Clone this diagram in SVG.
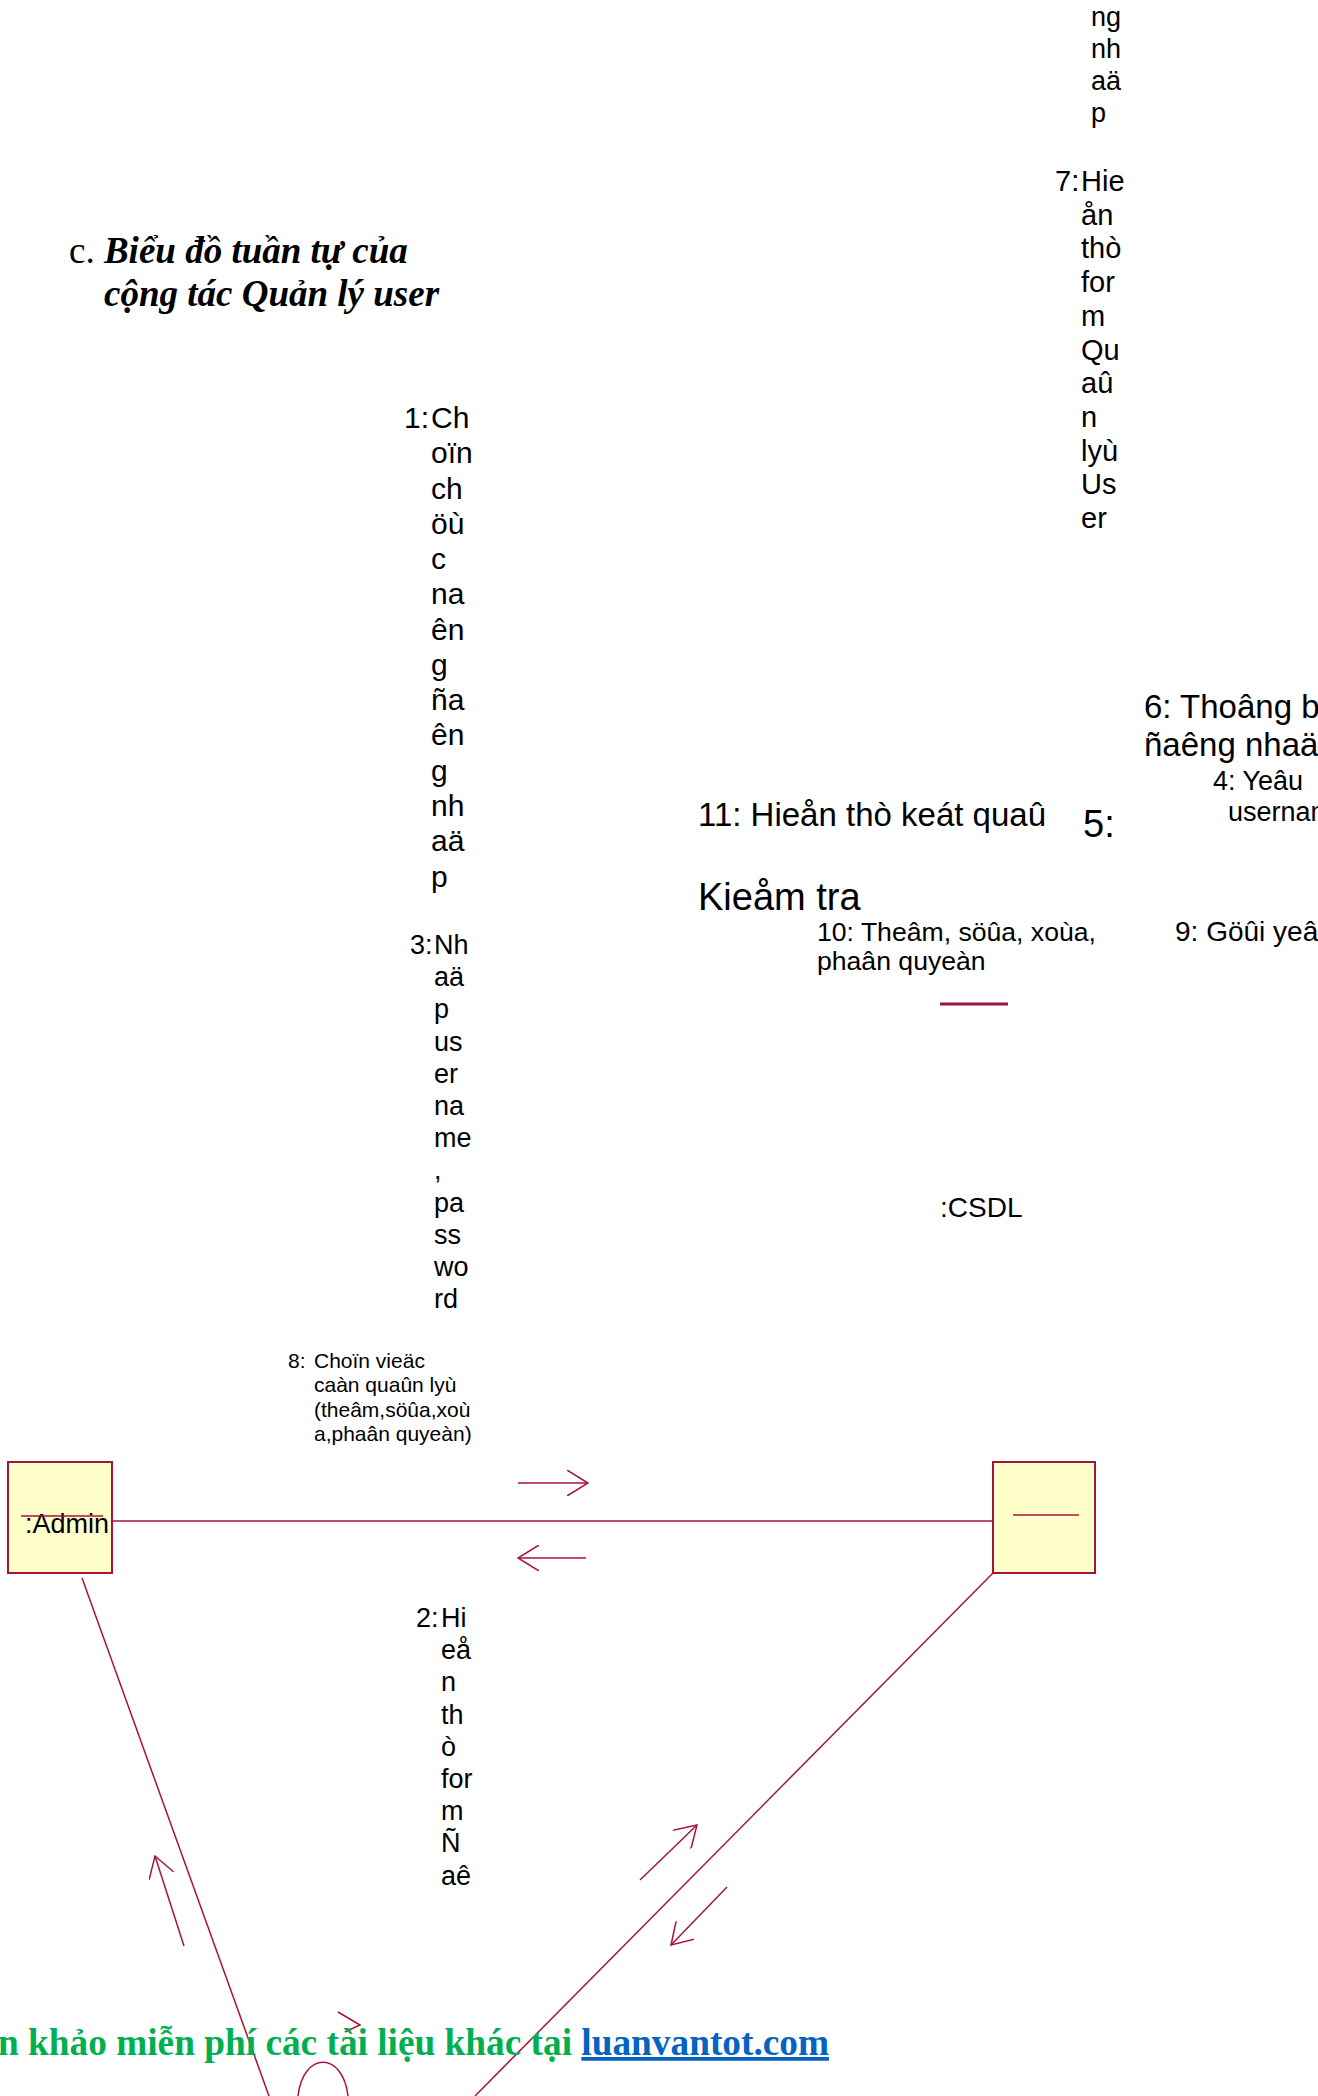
<svg xmlns="http://www.w3.org/2000/svg" width="1318" height="2096" viewBox="0 0 1318 2096">
<style>
.t{font-family:"Liberation Sans",Arial,sans-serif;fill:#000}
.ln{stroke:#a8123f;stroke-width:1.5;fill:none}
.box{fill:#ffffca;stroke:#a8123f;stroke-width:2}
.ttl{font-family:"Liberation Serif","Times New Roman",serif;font-size:37px;fill:#000}
</style>
<defs>
<marker id="open" viewBox="0 0 22 26" refX="21" refY="13" markerWidth="22" markerHeight="26" markerUnits="userSpaceOnUse" orient="auto">
<path d="M0,0 L21,13 L0,26" fill="none" stroke="#a8123f" stroke-width="1.5"/>
</marker>
</defs>
<rect width="1318" height="2096" fill="#fff"/>

<g id="title">
<text class="ttl" x="69" y="263">c. <tspan font-weight="bold" font-style="italic">Biểu đồ tuần tự của</tspan></text>
<text class="ttl" x="104" y="306" font-weight="bold" font-style="italic">cộng tác Quản lý user</text>
</g>

<g id="connectors">
<line class="ln" x1="112" y1="1521" x2="993" y2="1521"/>
<line class="ln" x1="82" y1="1578" x2="269" y2="2096"/>
<line class="ln" x1="993" y1="1573" x2="475" y2="2096"/>
<path class="ln" d="M518,1483 L588,1483" marker-end="url(#open)"/>
<path class="ln" d="M586,1558 L518,1558" marker-end="url(#open)"/>
<path class="ln" d="M184,1946 L155,1856" marker-end="url(#open)"/>
<path class="ln" d="M640,1880 L697,1825" marker-end="url(#open)"/>
<path class="ln" d="M727,1887 L671,1945" marker-end="url(#open)"/>
<polyline class="ln" points="338,2012 360,2025 345,2032"/>
<path class="ln" d="M298,2096 C303,2051 343,2051 348,2096"/>
<line x1="940" y1="1004" x2="1008" y2="1004" stroke="#a0103c" stroke-width="3"/>
</g>

<g id="admin">
<rect class="box" x="8" y="1462" width="104" height="111"/>
<text class="t" x="25" y="1533" font-size="27">:Admin</text>
<line class="ln" x1="21" y1="1516" x2="103" y2="1516"/>
</g>

<g id="object2">
<rect class="box" x="993" y="1462" width="102" height="111"/>
<line class="ln" x1="1013" y1="1515" x2="1079" y2="1515"/>
</g>

<g id="csdl">
<text class="t" x="940" y="1217" font-size="28">:CSDL</text>
</g>

<g id="msg-top">
<text class="t" font-size="27"><tspan x="1091" y="26">ng</tspan><tspan x="1091" y="58">nh</tspan><tspan x="1091" y="90">aä</tspan><tspan x="1091" y="122">p</tspan></text>
</g>

<g id="msg7">
<text class="t" font-size="29"><tspan x="1055" y="191">7:</tspan><tspan x="1081" y="191">Hie</tspan><tspan x="1081" dy="33.7">ån</tspan><tspan x="1081" dy="33.7">thò</tspan><tspan x="1081" dy="33.7">for</tspan><tspan x="1081" dy="33.7">m</tspan><tspan x="1081" dy="33.7">Qu</tspan><tspan x="1081" dy="33.7">aû</tspan><tspan x="1081" dy="33.7">n</tspan><tspan x="1081" dy="33.7">lyù</tspan><tspan x="1081" dy="33.7">Us</tspan><tspan x="1081" dy="33.7">er</tspan></text>
</g>

<g id="msg1">
<text class="t" font-size="30"><tspan x="404" y="428">1:</tspan><tspan x="431" y="428">Ch</tspan><tspan x="431" dy="35.27">oïn</tspan><tspan x="431" dy="35.27">ch</tspan><tspan x="431" dy="35.27">öù</tspan><tspan x="431" dy="35.27">c</tspan><tspan x="431" dy="35.27">na</tspan><tspan x="431" dy="35.27">ên</tspan><tspan x="431" dy="35.27">g</tspan><tspan x="431" dy="35.27">ña</tspan><tspan x="431" dy="35.27">ên</tspan><tspan x="431" dy="35.27">g</tspan><tspan x="431" dy="35.27">nh</tspan><tspan x="431" dy="35.27">aä</tspan><tspan x="431" dy="35.27">p</tspan></text>
</g>

<g id="msg3">
<text class="t" font-size="27"><tspan x="410" y="954">3:</tspan><tspan x="434" y="954">Nh</tspan><tspan x="434" dy="32.2">aä</tspan><tspan x="434" dy="32.2">p</tspan><tspan x="434" dy="32.2">us</tspan><tspan x="434" dy="32.2">er</tspan><tspan x="434" dy="32.2">na</tspan><tspan x="434" dy="32.2">me</tspan><tspan x="434" dy="32.2">,</tspan><tspan x="434" dy="32.2">pa</tspan><tspan x="434" dy="32.2">ss</tspan><tspan x="434" dy="32.2">wo</tspan><tspan x="434" dy="32.2">rd</tspan></text>
</g>

<g id="msg2">
<text class="t" font-size="27"><tspan x="416" y="1627">2:</tspan><tspan x="441" y="1627">Hi</tspan><tspan x="441" dy="32.2">eå</tspan><tspan x="441" dy="32.2">n</tspan><tspan x="441" dy="32.2">th</tspan><tspan x="441" dy="32.2">ò</tspan><tspan x="441" dy="32.2">for</tspan><tspan x="441" dy="32.2">m</tspan><tspan x="441" dy="32.2">Ñ</tspan><tspan x="441" dy="32.2">aê</tspan></text>
</g>

<g id="msg8">
<text class="t" font-size="21"><tspan x="288" y="1368">8:</tspan><tspan x="314" y="1368">Choïn vieäc</tspan><tspan x="314" y="1392">caàn quaûn lyù</tspan><tspan x="314" y="1417">(theâm,söûa,xoù</tspan><tspan x="314" y="1441">a,phaân quyeàn)</tspan></text>
</g>

<g id="msg6">
<text class="t" font-size="33"><tspan x="1144" y="718">6: Thoâng b</tspan><tspan x="1144" y="756">ñaêng nhaä</tspan></text>
</g>

<g id="msg4">
<text class="t" font-size="27"><tspan x="1213" y="790">4: Yeâu</tspan><tspan x="1228" y="821">usernam</tspan></text>
</g>

<g id="msg11">
<text class="t" x="698" y="826" font-size="33">11: Hieån thò keát quaû</text>
</g>

<g id="msg5">
<text class="t" x="1083" y="837" font-size="38">5:</text>
<text class="t" x="698" y="910" font-size="38">Kieåm tra</text>
</g>

<g id="msg10">
<text class="t" font-size="26.6"><tspan x="817" y="941">10: Theâm, söûa, xoùa,</tspan><tspan x="817" y="970">phaân quyeàn</tspan></text>
</g>

<g id="msg9">
<text class="t" x="1175" y="941" font-size="28">9: Göûi yeâu</text>
</g>

<g id="footer">
<text x="-2" y="2055" font-family="'Liberation Serif','Times New Roman',serif" font-weight="bold" font-size="37.3" fill="#00b050">n khảo miễn phí các tài liệu khác tại <tspan fill="#0563c1" text-decoration="underline">luanvantot.com</tspan></text>
</g>
</svg>
